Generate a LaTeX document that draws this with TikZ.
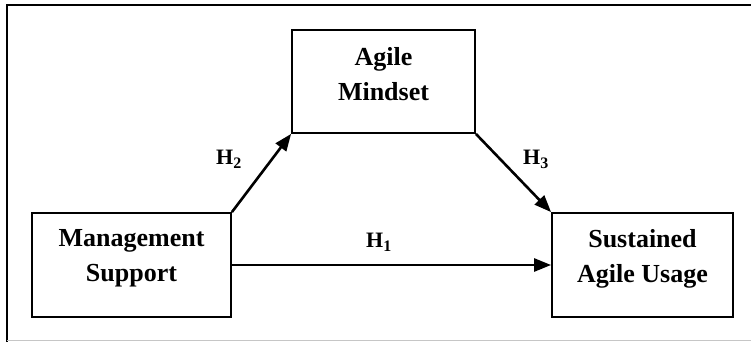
\documentclass[tikz,border=0pt]{standalone}
\usepackage{fontspec}
\setmainfont{Liberation Serif}
\usetikzlibrary{arrows.meta}

\tikzset{
  box/.style={draw=black, line width=1.8pt, rectangle, inner sep=0pt},
  boxtext/.style={font=\fontsize{26}{35}\selectfont\bfseries, align=center, inner sep=0pt},
  hlabel/.style={font=\fontsize{22}{22}\selectfont\bfseries, inner sep=0pt, anchor=base west},
  link/.style={line width=2.6pt, -{Triangle[length=17pt,width=13pt]}},
  frameline/.style={line width=1.8pt, black},
}
\newcommand{\hyp}[1]{H\raisebox{-4.5pt}{\fontsize{16}{16}\selectfont #1}}

\begin{document}
\begin{tikzpicture}[x=1pt,y=-1pt]
  \useasboundingbox (0,0) rectangle (751,342);

  % surrounding frame (open on the right)
  \draw[frameline] (7,342) -- (7,5) -- (751,5);
  \draw[gray!45, line width=1pt] (7,340) -- (751,340);

  % construct boxes
  \node[box, minimum width=199pt, minimum height=104pt] (ms) at (131.5,265) {};
  \node[box, minimum width=183pt, minimum height=103pt] (am) at (383.5,81.5) {};
  \node[box, minimum width=181pt, minimum height=104pt] (sa) at (642.5,265) {};

  \node[boxtext] (mstext) at ([yshift=6.5pt]ms.center) {Management\\Support};
  \node[boxtext] (amtext) at ([yshift=7.5pt]am.center) {Agile\\Mindset};
  \node[boxtext] (satext) at ([yshift=6.5pt]sa.center) {Sustained\\Agile Usage};

  % hypothesised paths
  \draw[link] (ms.north east) -- (am.south west);
  \draw[link] (am.south east) -- (sa.north west);
  \draw[link] (ms.east) -- (ms.east -| sa.west);

  \node[hlabel] (h1) at (366,247) {\hyp{1}};
  \node[hlabel] (h2) at (216,164) {\hyp{2}};
  \node[hlabel] (h3) at (523,164) {\hyp{3}};
\end{tikzpicture}
\end{document}
